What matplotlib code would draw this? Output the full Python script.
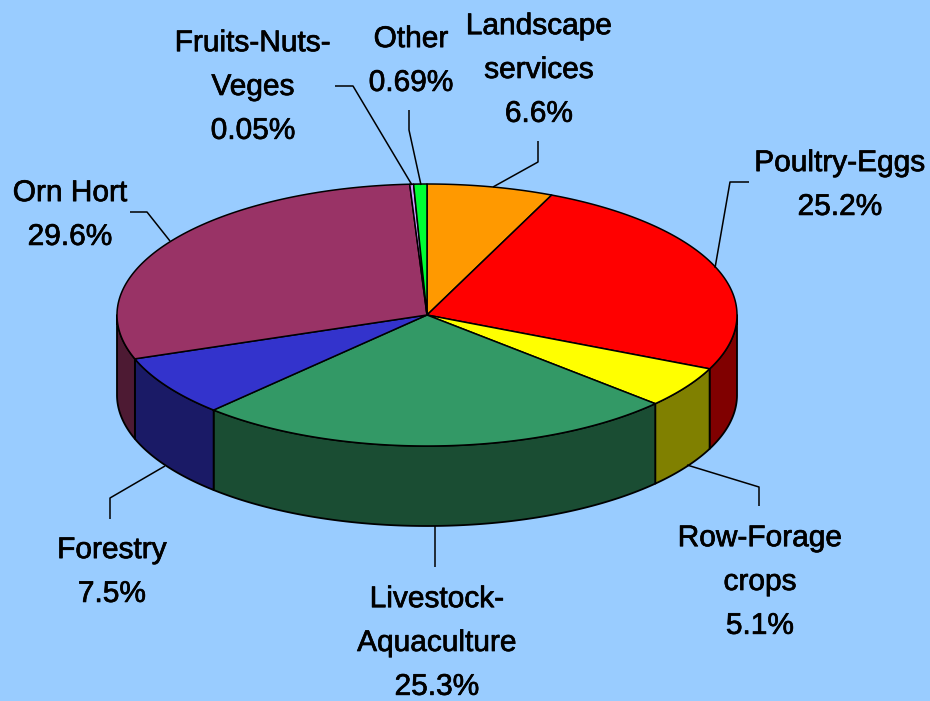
import numpy as np
import matplotlib
matplotlib.use("Agg")
import matplotlib.pyplot as plt
from matplotlib.patches import Polygon
import matplotlib.patheffects as pe

plt.rcParams["font.family"] = ["Liberation Sans", "DejaVu Sans"]

# Pie data, clockwise from the top
categories = ["Landscape", "Poultry-Eggs", "Row-Forage", "Livestock", "Forestry", "Orn Hort", "Fruits", "Other"]
values = [6.6, 25.2, 5.1, 25.3, 7.5, 29.6, 0.05, 0.69]
top_colors = ["#FF9900", "#FF0000", "#FFFF00", "#339966", "#3333CC", "#993366", "#CC99FF", "#00FF33"]

# Label text and where it goes
label_text = ["Landscape\nservices\n6.6%", "Poultry-Eggs\n25.2%", "Row-Forage\ncrops\n5.1%",
              "Livestock-\nAquaculture\n25.3%", "Forestry\n7.5%", "Orn Hort\n29.6%",
              "Fruits-Nuts-\nVeges\n0.05%", "Other\n0.69%"]
label_x = [539, 840, 760, 437, 112, 70, 253, 411]
label_y = [70, 185, 582, 643, 572, 215, 87, 61]

# Leader lines
leaders = [
    [(493, 187), (538, 162), (538, 141)],
    [(715, 268), (730, 182), (749, 182)],
    [(687, 465), (759, 487), (759, 506)],
    [(435, 526), (435, 567)],
    [(165, 466), (110, 498), (110, 519)],
    [(170, 241), (147, 212), (130, 212)],
    [(412, 185), (353, 86), (335, 86)],
    [(421, 185), (409, 130), (409, 110)],
]

cx, cy = 427, 315
rx, ry = 310, 131
depth = 80
bg = "#99CCFF"


def ell(t, drop=0):
    # t in degrees clockwise from the top of the ellipse
    r = np.radians(t)
    return np.column_stack([cx + rx * np.sin(r), cy - ry * np.cos(r) + drop])


def dark(c):
    rgb = np.array(matplotlib.colors.to_rgb(c))
    return tuple(rgb * 0.5)


fig = plt.figure(figsize=(9.3, 7.01), dpi=100, facecolor=bg)
ax = fig.add_axes([0, 0, 1, 1])
ax.set_xlim(0, 930)
ax.set_ylim(701, 0)
ax.axis("off")

# thinnest slice still has to show between its outlines
shown = np.maximum(values, 0.2)
edges = np.cumsum(np.r_[0, shown]) / shown.sum() * 360

# side walls first
for i in range(len(values)):
    a = max(edges[i], 90)
    b = min(edges[i + 1], 270)
    if b <= a:
        continue
    ts = np.linspace(a, b, 120)
    pts = np.vstack([ell(ts), ell(ts[::-1], depth)])
    ax.add_patch(Polygon(pts, closed=True, facecolor=dark(top_colors[i]), edgecolor="black", lw=1.3, joinstyle="round"))

# top slices
for i in range(len(values)):
    ts = np.linspace(edges[i], edges[i + 1], 200)
    pts = np.vstack([[cx, cy], ell(ts)])
    ax.add_patch(Polygon(pts, closed=True, facecolor=top_colors[i], edgecolor="black", lw=1.1, joinstyle="round"))

for pts in leaders:
    xs, ys = zip(*pts)
    ax.plot(xs, ys, color="black", lw=1.1, solid_capstyle="butt")

for txt, x, y in zip(label_text, label_x, label_y):
    ax.text(x, y, txt, ha="center", va="center", fontsize=21.5, color="black", linespacing=1.72,
            path_effects=[pe.withStroke(linewidth=0.5, foreground="black")])

fig.savefig("out.png", dpi=100, facecolor=bg)
